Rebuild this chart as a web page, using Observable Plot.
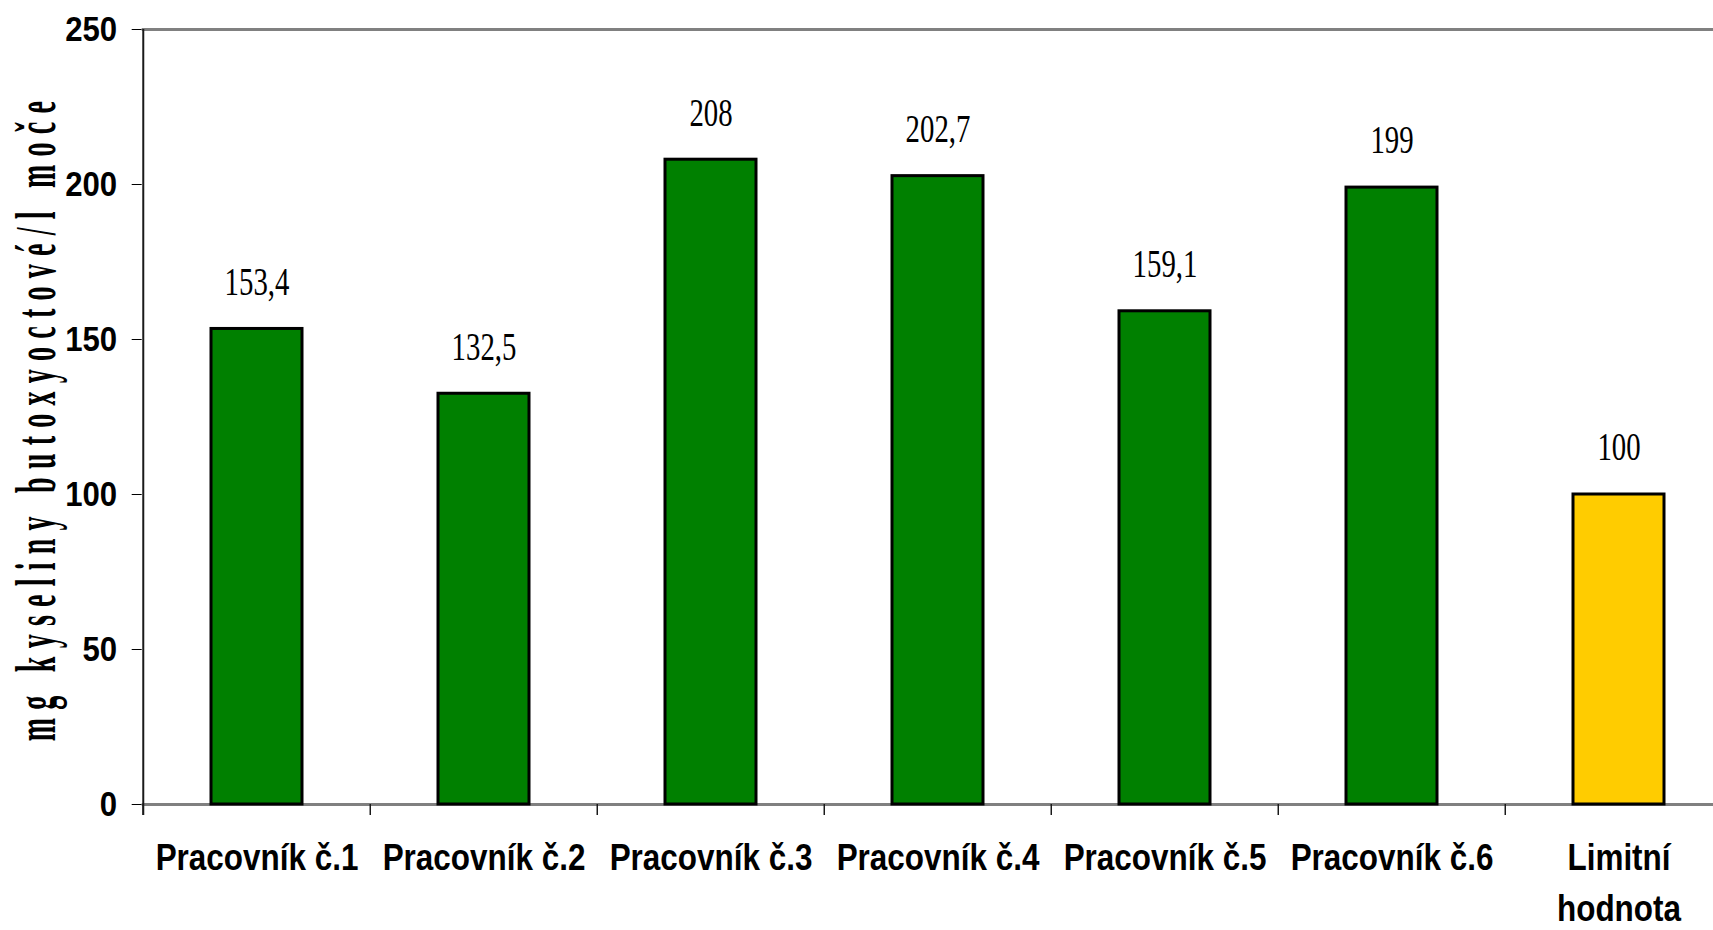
<!DOCTYPE html>
<html>
<head>
<meta charset="utf-8">
<script src="https://cdn.jsdelivr.net/npm/d3@7"></script>
<script src="https://cdn.jsdelivr.net/npm/@observablehq/plot@0.6"></script>
<style>
  html, body { margin: 0; padding: 0; background: #fff; overflow: hidden; }
  #chart svg { overflow: hidden; display: block; }
</style>
</head>
<body>
<div id="chart"></div>
<script>
// Butoxyacetic acid in urine: six workers against the limit value
const categories = ["Pracovník č.1", "Pracovník č.2", "Pracovník č.3", "Pracovník č.4", "Pracovník č.5", "Pracovník č.6", "Limitní\nhodnota"];
const values = [153.4, 132.5, 208, 202.7, 159.1, 199, 100];
const limitCategory = "Limitní\nhodnota";
const yTicks = [0, 50, 100, 150, 200, 250];
const yDomain = [0, 250];
const yTitle = "mg kyseliny butoxyoctové/l moče";

const data = categories.map((name, i) => ({name, value: values[i]}));

const W = 1713, H = 930;
const marginLeft = 141.7, marginRight = -21, marginTop = 29, marginBottom = 126;
const paddingInner = 0.6, paddingOuter = 0.3;
// width of one category slot; used to shift rules from band centres to band edges
const step = (W - marginRight - marginLeft) / (categories.length - paddingInner + 2 * paddingOuter);
const toEdge = -step / 2;

const sans = "'Liberation Sans', Arial, sans-serif";
const serif = "'Liberation Serif', 'Times New Roman', serif";
const decimalComma = v => String(v).replace(".", ",");

const chart = Plot.plot({
  width: W,
  height: H,
  marginLeft, marginRight, marginTop, marginBottom,
  style: {fontFamily: sans, fontWeight: "bold", fontSize: "35px", color: "black", background: "white", overflow: "hidden"},
  x: {type: "band", domain: categories, paddingInner, paddingOuter, axis: null},
  y: {domain: yDomain, ticks: yTicks, tickSize: 10, tickPadding: 15, label: null},
  marks: [
    Plot.ruleY([yDomain[1]], {stroke: "#808080", strokeWidth: 3}),
    Plot.ruleY([0], {stroke: "#808080", strokeWidth: 3}),
    // value axis line, running down into the first category tick
    Plot.ruleX(categories.slice(0, 1), {dx: toEdge, insetBottom: -11, stroke: "#1a1a1a", strokeWidth: 2}),
    // category separators below the baseline
    Plot.ruleX(categories, {x: d => d, y1: 0, y2: 0, insetBottom: -11, dx: toEdge, stroke: "#1a1a1a", strokeWidth: 1.5}),
    Plot.barY(data, {
      x: "name",
      y: "value",
      fill: d => d.name === limitCategory ? "#FFCC00" : "#008000",
      stroke: "black",
      strokeWidth: 3
    }),
    // value labels
    Plot.text(data, {
      x: "name", y: "value",
      text: d => decimalComma(d.value),
      dy: -47,
      fontFamily: serif, fontWeight: "normal", fontSize: 40
    }),
    // category labels
    Plot.text(data, {
      x: "name",
      text: "name",
      frameAnchor: "bottom",
      lineAnchor: "top",
      lineHeight: 1.39,
      dy: 29,
      fontSize: 37
    }),
    // value axis title
    Plot.text([yTitle], {
      frameAnchor: "left",
      textAnchor: "middle",
      rotate: -90,
      dx: -104.7,
      fontFamily: serif, fontSize: 56
    })
  ]
});

// narrow the glyphs horizontally (in each text's own frame) without moving their anchors
function squeeze(nodes, sx) {
  nodes.forEach(el => {
    const t = el.getAttribute("transform") || "";
    el.setAttribute("transform", `${t} scale(${sx},1)`.trim());
  });
}

const textGroups = chart.querySelectorAll('g[aria-label="text"]');
const [valueGroup, categoryGroup, titleGroup] = textGroups;

squeeze(chart.querySelectorAll('[aria-label="y-axis tick label"] text'), 0.89);
if (valueGroup) squeeze(valueGroup.querySelectorAll("text"), 0.72);
if (categoryGroup) squeeze(categoryGroup.querySelectorAll("text"), 0.85);
if (titleGroup) {
  const titleNodes = titleGroup.querySelectorAll("text");
  titleNodes.forEach(el => { el.style.letterSpacing = "16.5px"; });
  squeeze(titleNodes, 0.5);
}

document.getElementById("chart").appendChild(chart);
</script>
</body>
</html>
